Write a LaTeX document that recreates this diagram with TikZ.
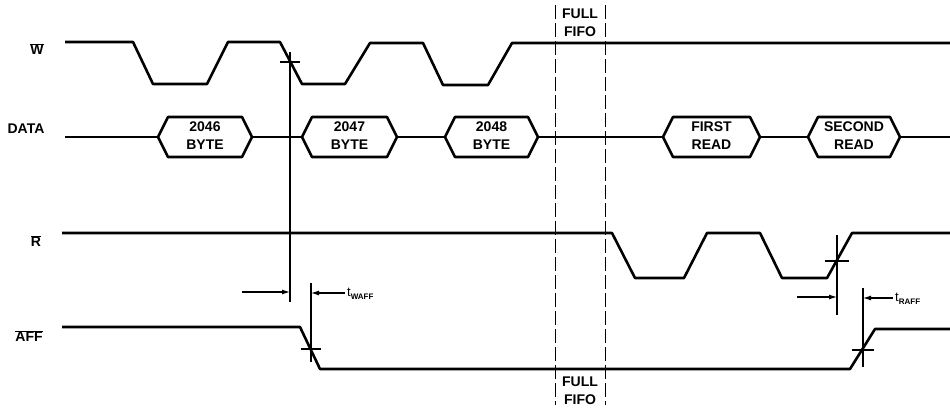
\documentclass[tikz,border=0pt]{standalone}
\usepackage{fontspec}
\setmainfont{Liberation Sans}
\usetikzlibrary{arrows.meta, calc}

\begin{document}
\begin{tikzpicture}[x=1pt, y=-1pt, every node/.style={font=\fontsize{14}{18}\selectfont\bfseries, inner sep=0pt},
    sig/.style={line width=2.6pt, line join=round},
    tline/.style={line width=1.1pt},
    fifo/.style={line width=0.9pt, dash pattern=on 14pt off 4pt},
    tarr/.style={line width=1.1pt, -{Latex[length=8pt,width=5pt]}},
    tlabel/.style={font=\fontsize{13}{15}\selectfont, anchor=west}]
    \useasboundingbox (0,0) rectangle (950,408);
    % Signal names
    \node (wname) at (37,49) {$\overline{\hbox{W}}$};
    \node (dname) at (26,129) {DATA};
    \node (rname) at (36,241) {$\overline{\hbox{R}}$};
    \node (affname) at (29,336) {$\overline{\hbox{AFF}}$};
    % Write strobe
    \draw[sig] (65,42) -- (133,42) -- (153,84) -- (207,84) -- (228,42) -- (280,42) -- (302,84)
        -- (345,84) -- (370,43) -- (423,43) -- (443,85) -- (488,85) -- (512,43) -- (950,43);
    % Data bus with byte boxes
    \draw[sig] (65,137) -- (950,137);
    \foreach \a/\b/\t [count=\i] in {158/252/2046\\BYTE, 302/397/2047\\BYTE, 445/538/2048\\BYTE,
        663/760/FIRST\\READ, 808/900/SECOND\\READ} {
        \draw[sig, fill=white] (\a,137) -- (\a+10,117) -- (\b-10,117) -- (\b,137)
            -- (\b-10,157) -- (\a+10,157) -- cycle;
        \node[align=center] (byte\i) at ({(\a+\b)/2},136) {\t};
    }
    % Read strobe
    \draw[sig] (62,233) -- (612,233) -- (635,278) -- (684,278) -- (707,233) -- (760,233)
        -- (782,278) -- (827,278) -- (852,233) -- (950,233);
    % Almost full flag
    \draw[sig] (62,327) -- (300,327) -- (320,369) -- (850,369) -- (875,329) -- (950,329);
    % Full FIFO window
    \draw[fifo] (555,5) -- (555,405);
    \draw[fifo] (605,5) -- (605,405);
    \node[align=center] (fulltop) at (580,23) {FULL\\FIFO};
    \node[align=center] (fullbot) at (580,391) {FULL\\FIFO};
    % tWAFF
    \coordinate (wx) at (290,62);
    \coordinate (afx) at (311,349);
    \draw[tline] ($(wx)+(-10,0)$) -- ($(wx)+(10,0)$);
    \draw[tline] ($(wx)+(0,-10)$) -- (290,302);
    \draw[tline] ($(afx)+(-10,0)$) -- ($(afx)+(10,0)$);
    \draw[tline] (311,283) -- ($(afx)+(0,13)$);
    \coordinate (wa1) at (242,292);
    \coordinate (wa2) at (345,293);
    \draw[tarr] (wa1) -- (wx |- wa1);
    \draw[tarr] (wa2) -- (afx |- wa2);
    \node[tlabel] (twaff) at (347,294) {t\raisebox{-3pt}{\fontsize{8}{9}\selectfont\bfseries WAFF}};
    % tRAFF
    \coordinate (rx) at (837,261);
    \coordinate (arx) at (863,350);
    \draw[tline] ($(rx)+(-12,0)$) -- ($(rx)+(12,0)$);
    \draw[tline] (837,235) -- (837,315);
    \draw[tline] ($(arx)+(-11,0)$) -- ($(arx)+(11,0)$);
    \draw[tline] (863,288) -- (863,367);
    \coordinate (ra1) at (797,297);
    \coordinate (ra2) at (893,298);
    \draw[tarr] (ra1) -- (rx |- ra1);
    \draw[tarr] (ra2) -- (arx |- ra2);
    \node[tlabel] (traff) at (895,299) {t\raisebox{-3pt}{\fontsize{8}{9}\selectfont\bfseries RAFF}};
\end{tikzpicture}
\end{document}
